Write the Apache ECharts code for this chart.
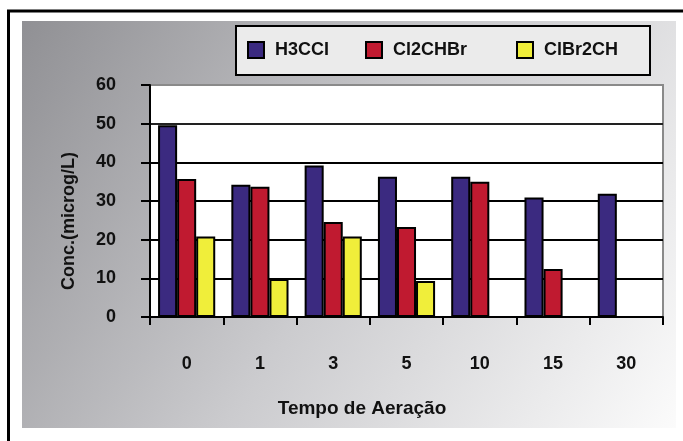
<!DOCTYPE html>
<html>
<head>
<meta charset="utf-8">
<script src="https://cdn.jsdelivr.net/npm/echarts@6/dist/echarts.min.js"></script>
<style>
  html, body { margin: 0; padding: 0; background: #fff; }
  #chart { width: 683px; height: 441px; }
</style>
</head>
<body>
<div id="chart"></div>
<script>
// Aeration time (categories) and concentrations per compound
const categories = ['0', '1', '3', '5', '10', '15', '30'];
const h3ccl   = [49.6, 34.2, 39.2, 36.3, 36.3, 30.9, 31.9];
const cl2chbr = [35.7, 33.7, 24.6, 23.3, 35.0, 12.4, null];
const clbr2ch = [20.8, 9.8, 20.8, 9.3, null, null, null];
const seriesNames = ['H3CCI', 'Cl2CHBr', 'ClBr2CH'];
const yMin = 0, yMax = 60, yStep = 10;

const FONT = '"Liberation Sans", Arial, sans-serif';
const colors = ['#3b2a80', '#c01a30', '#f0ee3a'];

const chart = echarts.init(document.getElementById('chart'), null, { renderer: 'canvas' });

function legendAt(name, left) {
  return {
    data: [name],
    left: left,
    top: 41,
    padding: 0,
    icon: 'rect',
    itemWidth: 16,
    itemHeight: 16,
    selectedMode: false,
    itemStyle: { borderColor: '#000', borderWidth: 2 },
    textStyle: {
      fontFamily: FONT, fontWeight: 'bold', fontSize: 18, color: '#111',
      padding: [3, 0, 0, 6]
    }
  };
}

function bar(name, data, color) {
  return {
    name: name,
    type: 'bar',
    data: data,
    barGap: '0%',
    barCategoryGap: '22%',
    itemStyle: { color: color, borderColor: '#000', borderWidth: 2 }
  };
}

chart.setOption({
  backgroundColor: '#fff',
  animation: false,
  graphic: [
    { type: 'rect', z: -100, shape: { x: 8.5, y: 11, width: 700, height: 460 },
      style: { fill: '#fff', stroke: '#000', lineWidth: 3 } },
    { type: 'rect', z: -90, shape: { x: 22, y: 21, width: 654, height: 407 },
      style: { fill: new echarts.graphic.LinearGradient(0, 0, 1, 1, [
        { offset: 0, color: '#909094' },
        { offset: 0.5, color: '#cbcbce' },
        { offset: 1, color: '#fbfbfb' }
      ]) } },
    { type: 'rect', z: -80, shape: { x: 236, y: 26, width: 414, height: 49 },
      style: { fill: '#ebebeb', stroke: '#000', lineWidth: 2 } },
    { type: 'text', z: 10, x: 69, y: 221, rotation: Math.PI / 2,
      style: { text: 'Conc.(microg/L)', fontFamily: FONT, fontWeight: 'bold', fontSize: 18,
               fill: '#111', align: 'center', verticalAlign: 'middle' } },
    { type: 'text', z: 10, x: 362, y: 409,
      style: { text: 'Tempo de Aeração', fontFamily: FONT, fontWeight: 'bold', fontSize: 19,
               fill: '#111', align: 'center', verticalAlign: 'middle' } }
  ],
  legend: [
    legendAt(seriesNames[0], 247),
    legendAt(seriesNames[1], 365),
    legendAt(seriesNames[2], 516)
  ],
  grid: {
    left: 150, right: 20, top: 85, bottom: 124,
    show: true, backgroundColor: '#fff', borderColor: '#8a8a8a', borderWidth: 2
  },
  xAxis: {
    type: 'category',
    data: categories,
    axisLine: { lineStyle: { color: '#000', width: 2 } },
    axisTick: { show: true, length: 8, lineStyle: { color: '#000', width: 2 } },
    axisLabel: { margin: 38, fontFamily: FONT, fontWeight: 'bold', fontSize: 18, color: '#111' }
  },
  yAxis: {
    type: 'value',
    min: yMin, max: yMax, interval: yStep,
    axisLine: { show: true, lineStyle: { color: '#000', width: 2 } },
    axisTick: { show: true, length: 9, lineStyle: { color: '#000', width: 2 } },
    axisLabel: { margin: 34, fontFamily: FONT, fontWeight: 'bold', fontSize: 18, color: '#111' },
    splitLine: { show: true, lineStyle: {
      color: ['#000', '#000', '#000', '#000', '#000', '#222', '#8a8a8a'], width: 2 } }
  },
  series: [
    bar(seriesNames[0], h3ccl, colors[0]),
    bar(seriesNames[1], cl2chbr, colors[1]),
    bar(seriesNames[2], clbr2ch, colors[2])
  ]
});
</script>
</body>
</html>
